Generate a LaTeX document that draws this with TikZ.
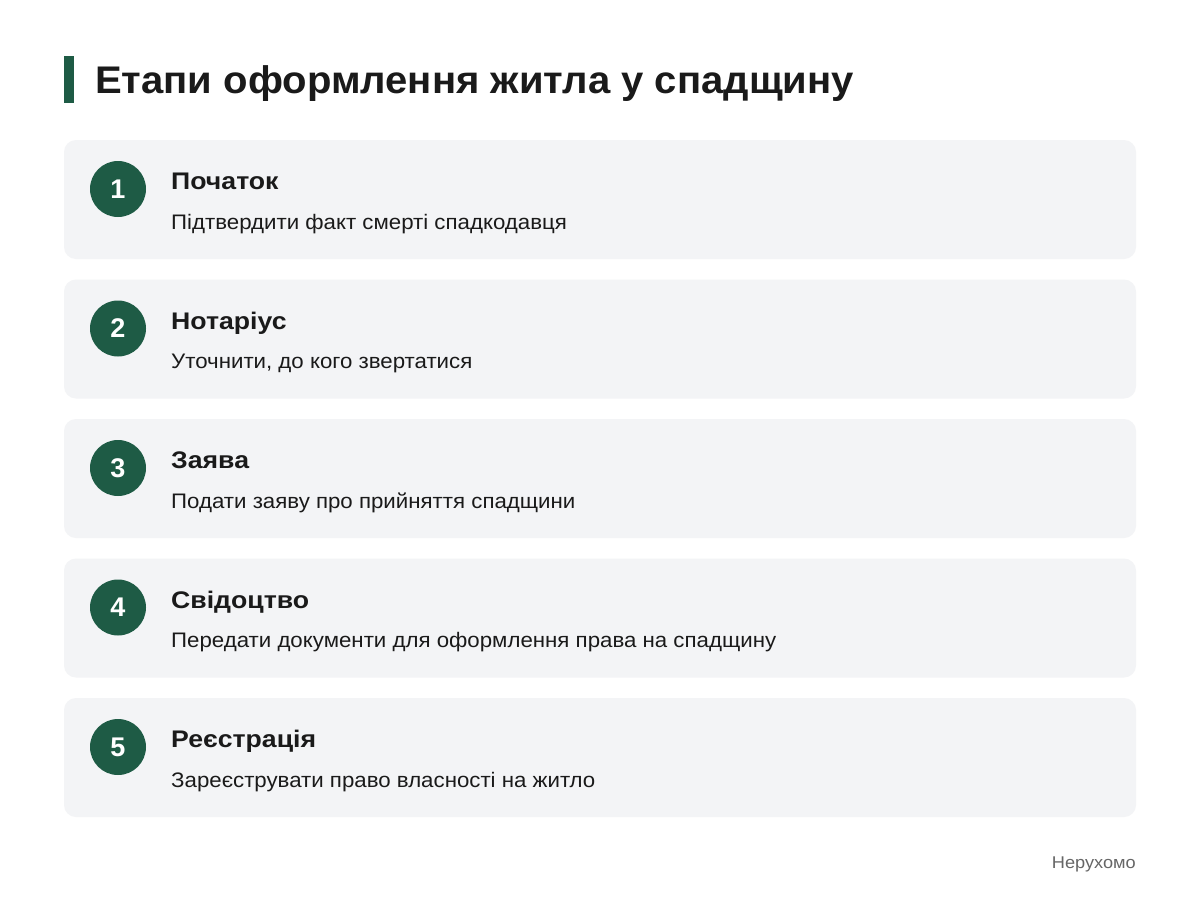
\documentclass[tikz,border=0pt]{standalone}
\usepackage{fontspec}
\setmainfont{Liberation Sans}
\newfontfamily\titlefont[FakeStretch=1.04]{Liberation Sans}
\newfontfamily\headfont[FakeStretch=1.11]{Liberation Sans}
\newfontfamily\descfont[FakeStretch=1.06]{Liberation Sans}
\newfontfamily\footfont[FakeStretch=1.07]{Liberation Sans}
\definecolor{accent}{HTML}{1E5B45}
\definecolor{cardbg}{HTML}{F3F4F6}
\definecolor{ink}{HTML}{1A1A1A}
\definecolor{foot}{HTML}{666666}
\begin{document}
\begin{tikzpicture}[x=1pt,y=-1pt,
  card/.style={fill=cardbg,draw=none,rounded corners=12pt},
  badge/.style={circle,fill=accent,minimum size=56pt,inner sep=0pt,text=white,font=\fontsize{27}{27}\selectfont\bfseries},
  head/.style={anchor=base west,inner sep=0pt,text=ink,font=\headfont\fontsize{24}{24}\selectfont\bfseries},
  desc/.style={anchor=base west,inner sep=0pt,text=ink,font=\descfont\fontsize{21}{21}\selectfont}]
\useasboundingbox[fill=white] (0,0) rectangle (1200,916);
\fill[accent] (64,56) rectangle (74,103);
\node[anchor=base west,inner sep=0pt,text=ink,font=\titlefont\fontsize{38.5}{38.5}\selectfont\bfseries] (title) at (95,93) {Етапи оформлення житла у спадщину};
\foreach \i/\h/\d [count=\k from 0] in {1/Початок/Підтвердити факт смерті спадкодавця,
  2/Нотаріус/{Уточнити, до кого звертатися},
  3/Заява/Подати заяву про прийняття спадщини,
  4/Свідоцтво/Передати документи для оформлення права на спадщину,
  5/Реєстрація/Зареєструвати право власності на житло}{
  \pgfmathsetmacro{\t}{140+139.5*\k}
  \fill[card] (64,\t) rectangle (1136,\t+119);
  \node[badge] (b\i) at (118,\t+49) {\i};
  \node[head] (h\i) at (171,\t+49.5) {\h};
  \node[desc] (d\i) at (171,\t+89) {\d};
}
\node[anchor=base east,inner sep=0pt,text=foot,font=\footfont\fontsize{17}{17}\selectfont] (footer) at (1136,868) {Нерухомо};
\end{tikzpicture}
\end{document}
